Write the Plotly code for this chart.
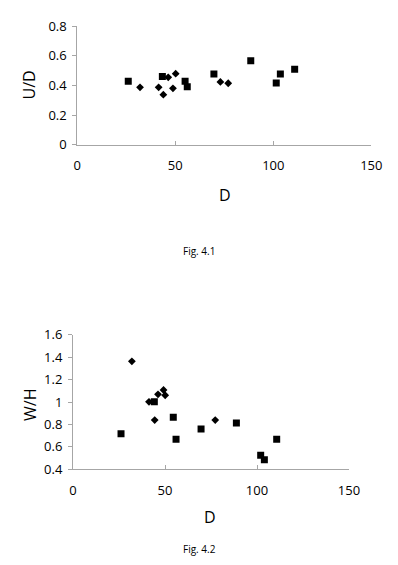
import plotly.graph_objects as go

# Fig 4.1 data (U/D vs D)
top_sq_D = [26.0, 43.4, 55.0, 56.1, 69.7, 88.5, 101.5, 103.6, 110.9]
top_sq_UD = [0.427, 0.459, 0.427, 0.391, 0.477, 0.566, 0.416, 0.477, 0.508]
top_di_D = [32.0, 41.5, 43.9, 46.4, 48.8, 50.2, 73.0, 77.0]
top_di_UD = [0.387, 0.387, 0.337, 0.454, 0.380, 0.479, 0.423, 0.414]

# Fig 4.2 data (W/H vs D)
bot_sq_D = [26.1, 44.2, 54.5, 56.0, 69.6, 88.8, 102.0, 104.0, 110.7]
bot_sq_WH = [0.717, 1.002, 0.863, 0.667, 0.759, 0.813, 0.525, 0.486, 0.667]
bot_di_D = [32.0, 41.3, 44.4, 46.2, 49.2, 50.1, 77.3]
bot_di_WH = [1.363, 1.002, 0.839, 1.068, 1.107, 1.060, 0.839]

x_ticks = [0, 50, 100, 150]
top_y_ticks = [0, 0.2, 0.4, 0.6, 0.8]
bot_y_ticks = [0.4, 0.6, 0.8, 1.0, 1.2, 1.4, 1.6]

FONT = "Open Sans"
W, H = 398, 565
OFF = 8  # page body margin
AX = "#a6a6a6"

fig = go.Figure()
sq = dict(symbol="square", size=7, color="black")
di = dict(symbol="diamond", size=6, color="black")
fig.add_trace(go.Scatter(x=top_sq_D, y=top_sq_UD, mode="markers", marker=sq, xaxis="x", yaxis="y", showlegend=False))
fig.add_trace(go.Scatter(x=top_di_D, y=top_di_UD, mode="markers", marker=di, xaxis="x", yaxis="y", showlegend=False))
fig.add_trace(go.Scatter(x=bot_sq_D, y=bot_sq_WH, mode="markers", marker=sq, xaxis="x2", yaxis="y2", showlegend=False))
fig.add_trace(go.Scatter(x=bot_di_D, y=bot_di_WH, mode="markers", marker=di, xaxis="x2", yaxis="y2", showlegend=False))

def px(x):
    return (x - OFF) / W

def py(y):
    return 1 - (y - OFF) / H

xcommon = dict(range=[0, 150], tickvals=x_ticks, showgrid=False, zeroline=False, automargin=False,
               showline=True, linecolor=AX, linewidth=1, ticks="inside", ticklen=4,
               tickcolor=AX, tickfont=dict(family=FONT, size=13, color="black"),
               ticklabelstandoff=9)
ycommon = dict(showgrid=False, zeroline=False, showline=True, linecolor=AX, linewidth=1, automargin=False,
               ticks="outside", ticklen=4, tickcolor=AX,
               tickfont=dict(family=FONT, size=13, color="black"), ticklabelstandoff=3)

fig.update_layout(
    template="none",
    width=W, height=H,
    margin=dict(l=0, r=0, t=0, b=0, autoexpand=False),
    paper_bgcolor="white", plot_bgcolor="white",
    xaxis=dict(domain=[px(77.3), px(371.3)], anchor="y", **xcommon),
    yaxis=dict(domain=[py(144.7), py(26)], anchor="x", range=[0, 0.8], tickvals=top_y_ticks,
               ticktext=["0", "0.2", "0.4", "0.6", "0.8"], **ycommon),
    xaxis2=dict(domain=[px(73), px(349)], anchor="y2", **xcommon),
    yaxis2=dict(domain=[py(469.3), py(334.7)], anchor="x2", range=[0.4, 1.6], tickvals=bot_y_ticks,
                ticktext=["0.4", "0.6", "0.8", "1", "1.2", "1.4", "1.6"], **ycommon),
)

def ann(text, x, y, size, angle=0):
    fig.add_annotation(text=text, x=px(x), y=py(y), xref="paper", yref="paper",
                       showarrow=False, textangle=angle, xanchor="center", yanchor="middle",
                       font=dict(family=FONT, size=size, color="black"))

ann("D", 225, 195, 16)
ann("U/D", 28.5, 85, 16, -90)
ann("Fig. 4.1", 198.5, 251, 10)
ann("D", 210, 517, 16)
ann("W/H", 30, 405, 16, -90)
ann("Fig. 4.2", 199, 549, 10)

fig.write_html("out.html")
